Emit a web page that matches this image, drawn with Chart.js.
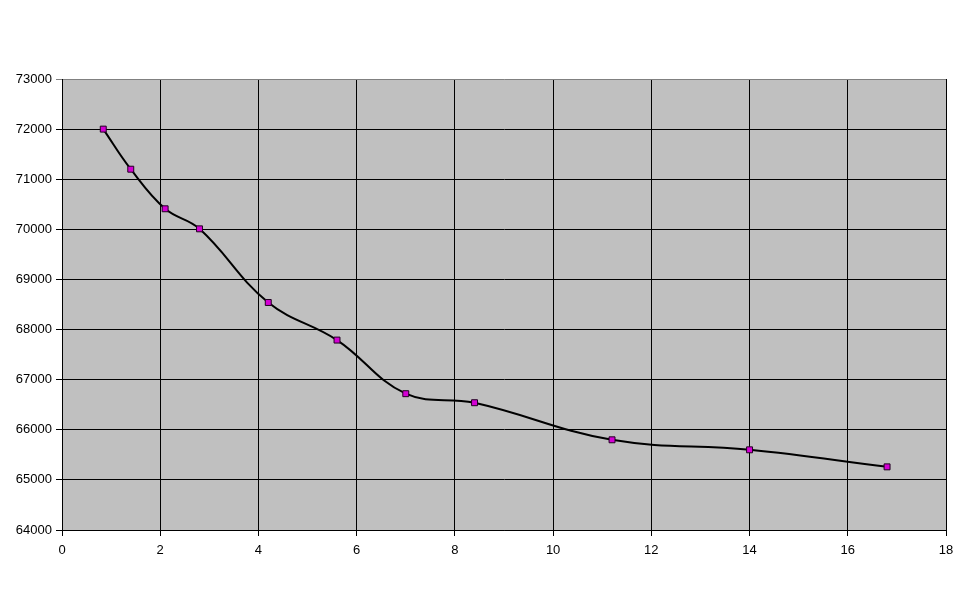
<!DOCTYPE html>
<html>
<head>
<meta charset="utf-8">
<script src="https://cdn.jsdelivr.net/npm/chart.js@4"></script>
<style>
  html, body { margin: 0; padding: 0; background: #ffffff; }
  #wrap { width: 970px; height: 604px; }
</style>
</head>
<body>
<div id="wrap"><canvas id="chart" width="970" height="604"></canvas></div>
<script>
// values
const xValues = [0.84, 1.4, 2.1, 2.8, 4.2, 5.6, 7, 8.4, 11.2, 14, 16.8];
const yValues = [72000, 71200, 70410, 70010, 68540, 67790, 66720, 66540, 65800, 65600, 65260];
const xTicks = [0, 2, 4, 6, 8, 10, 12, 14, 16, 18];
const yTicks = [64000, 65000, 66000, 67000, 68000, 69000, 70000, 71000, 72000, 73000];

const points = xValues.map((x, i) => ({ x: x, y: yValues[i] }));

// grey plot area like the old spreadsheet charts
const plotBackground = {
    id: 'plotBackground',
    beforeDraw(chart) {
        const { ctx, chartArea } = chart;
        ctx.save();
        ctx.fillStyle = '#c0c0c0';
        ctx.fillRect(chartArea.left, chartArea.top, chartArea.right - chartArea.left, chartArea.bottom - chartArea.top);
        ctx.restore();
    }
};

const ctx = document.getElementById('chart').getContext('2d');
new Chart(ctx, {
    type: 'scatter',
    data: {
        datasets: [{
            data: points,
            showLine: true,
            borderColor: '#000000',
            borderWidth: 2,
            tension: 0.4,
            pointStyle: 'rect',
            pointRadius: 4.2,
            pointBackgroundColor: '#d400d4',
            pointBorderColor: '#200020',
            pointBorderWidth: 1
        }]
    },
    options: {
        responsive: false,
        animation: false,
        layout: { padding: { top: 79, right: 24, left: 0, bottom: 0 } },
        plugins: {
            legend: { display: false },
            tooltip: { enabled: false }
        },
        scales: {
            x: {
                type: 'linear',
                min: 0,
                max: 18,
                afterBuildTicks: (scale) => { scale.ticks = xTicks.map(v => ({ value: v })); },
                afterFit: (scale) => { scale.height = 74; },
                ticks: {
                    color: '#000000',
                    font: { family: 'Liberation Sans', size: 13 },
                    padding: 7,
                    maxRotation: 0
                },
                grid: {
                    color: '#000000',
                    lineWidth: 1,
                    tickLength: 6,
                    drawOnChartArea: true
                },
                border: { color: '#000000', width: 1 }
            },
            y: {
                type: 'linear',
                min: 64000,
                max: 73000,
                afterBuildTicks: (scale) => { scale.ticks = yTicks.map(v => ({ value: v })); },
                afterFit: (scale) => { scale.width = 62; },
                ticks: {
                    color: '#000000',
                    font: { family: 'Liberation Sans', size: 13 },
                    padding: 4,
                    callback: (v) => String(v)
                },
                grid: {
                    color: (c) => (c.tick && c.tick.value === 73000) ? '#808080' : '#000000',
                    lineWidth: 1,
                    tickLength: 6
                },
                border: { color: '#000000', width: 1 }
            }
        }
    },
    plugins: [plotBackground]
});
</script>
</body>
</html>
